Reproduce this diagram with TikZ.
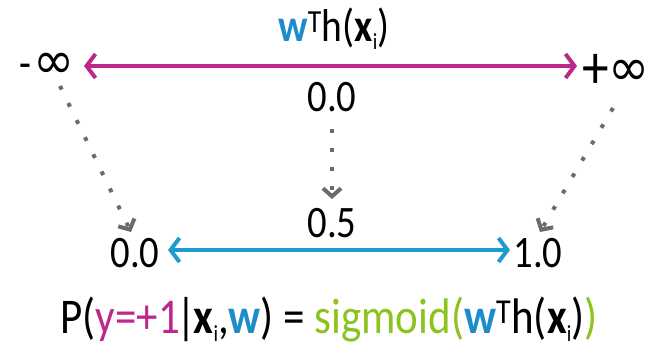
\documentclass[tikz,border=0pt]{standalone}
\usepackage{fontspec}
\setmainfont{Carlito}[FakeStretch=0.86]
\newfontfamily\symfont{DejaVu Sans}[FakeStretch=0.95]
\usetikzlibrary{arrows.meta}
\definecolor{magentaline}{RGB}{190,40,140}
\definecolor{cyanline}{RGB}{28,155,205}
\definecolor{wblue}{RGB}{30,140,200}
\definecolor{sgreen}{RGB}{140,195,30}
\definecolor{dotgray}{RGB}{110,105,110}
\newcommand{\wvec}{\textcolor{wblue}{\textbf{w}}}
\newcommand{\xvec}{\textbf{x}\raisebox{-0.16em}{\fontsize{23}{25}\selectfont i}}
\newcommand{\infsym}{{\symfont\fontsize{52}{56}\selectfont\raisebox{0.08em}{∞}}}
\begin{document}
\begin{tikzpicture}
  [x=1pt, y=-1pt,
   val/.style={inner sep=0pt, font=\fontsize{45}{50}\selectfont},
   bigarrow/.style={line width=4pt, {Straight Barb[length=9pt, width=24pt]}-{Straight Barb[length=9pt, width=24pt]}},
   maparrow/.style={draw=dotgray, line width=4pt, dash pattern=on 4pt off 15pt,
     -{Straight Barb[length=8pt, width=18pt]}}]

  \useasboundingbox (0,0) rectangle (654,350);

  \node[val, anchor=base] (title) at (334,42) {\fontsize{46}{50}\selectfont\wvec\textsuperscript{T}h(\xvec)};
  \node[val] (minf) at (47,68) {\raisebox{0.1em}{-}\kern2pt\infsym};
  \node[val] (pinf) at (616,72) {{\fontsize{62}{64}\selectfont\raisebox{0.02em}{+}}\infsym};
  \node[val, anchor=base] (zero) at (332,112) {0.0};

  \node[val, anchor=base] (half) at (332,238) {0.5};
  \node[val, anchor=base] (low) at (135,268) {0.0};
  \node[val, anchor=base] (high) at (538,268) {1.0};

  \coordinate (mL) at (84,66);
  \coordinate (mR) at (577,66);
  \draw[bigarrow, magentaline] (mL) -- (mR);

  \coordinate (cL) at (168,250);
  \coordinate (cR) at (510,250);
  \draw[bigarrow, cyanline] (cL) -- (cR);

  % where the ends land
  \coordinate (s1) at (60,86);
  \coordinate (t1) at (131,232);
  \coordinate (s2) at (332,129);
  \coordinate (t2) at (332,199);
  \coordinate (s3) at (613,108);
  \coordinate (t3) at (540,232);
  \foreach \from/\to in {s1/t1,s2/t2,s3/t3}
    \draw[maparrow] (\from) -- (\to);

  \node[val, anchor=base] (prob) at (329,333) {\fontsize{50}{54}\selectfont P(\textcolor{magentaline}{y=+1}\kern-3pt|\kern-3pt\xvec,\wvec) = \textcolor{sgreen}{sigmoid(}\wvec\textsuperscript{T}h(\xvec)\textcolor{sgreen}{)}};
\end{tikzpicture}
\end{document}
